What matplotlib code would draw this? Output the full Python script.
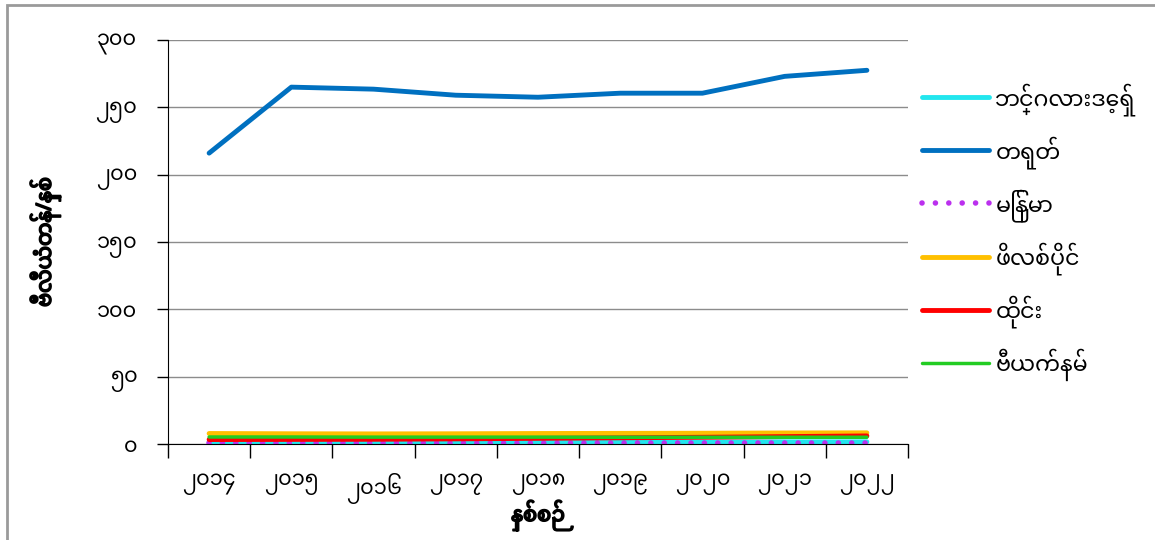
import matplotlib
matplotlib.use("Agg")
import matplotlib.pyplot as plt
from matplotlib.patches import Rectangle
import matplotlib.patheffects as pe

plt.rcParams['font.family'] = ['Noto Sans Myanmar', 'Padauk', 'Myanmar Text', 'DejaVu Sans']

# data
years = ['၂၀၁၄', '၂၀၁၅', '၂၀၁၆', '၂၀၁၇', '၂၀၁၈', '၂၀၁၉', '၂၀၂၀', '၂၀၂၁', '၂၀၂၂']
bangladesh = [1.5, 1.5, 1.5, 1.5, 1.5, 1.5, 1.5, 1.6, 1.6]
china = [216, 265, 263.5, 259, 257.5, 260.5, 260.5, 273, 277.5]
myanmar = [0.7, 0.7, 0.7, 0.7, 0.7, 0.7, 0.7, 0.7, 0.7]
philippines = [7.8, 7.6, 7.5, 7.6, 7.8, 7.9, 8.0, 8.2, 8.3]
thailand = [3.3, 3.4, 3.5, 3.8, 4.2, 4.6, 5.0, 5.5, 6.0]
vietnam = [5.2, 5.2, 5.1, 5.1, 5.1, 5.0, 5.0, 5.0, 5.0]

yticks = [0, 50, 100, 150, 200, 250, 300]
ylabels = ['၀', '၅၀', '၁၀၀', '၁၅၀', '၂၀၀', '၂၅၀', '၃၀၀']

fig = plt.figure(figsize=(11.55, 5.4), dpi=100)
ax = fig.add_axes([168/1155, 1-444/540, 740/1155, 404/540])

x = list(range(len(years)))
l1, = ax.plot(x, bangladesh, color='#22E6EE', lw=3.5, solid_capstyle='round', label='ဘင်္ဂလားဒေ့ရှ်')
l2, = ax.plot(x, china, color='#0070C0', lw=3.5, solid_capstyle='round', label='တရုတ်')
l3, = ax.plot(x, myanmar, color='#BB30EE', lw=4, linestyle=(0, (0.01, 2.4)), dash_capstyle='round', label='မြန်မာ')
l4, = ax.plot(x, philippines, color='#FFC000', lw=3.5, solid_capstyle='round', label='ဖိလစ်ပိုင်')
l5, = ax.plot(x, thailand, color='#FF0000', lw=3.5, solid_capstyle='round', label='ထိုင်း')
l6, = ax.plot(x, vietnam, color='#22CC22', lw=2.5, solid_capstyle='round', label='ဗီယက်နမ်')

ax.set_xlim(-0.5, len(years) - 0.5)
ax.set_ylim(0, 300)
ax.set_yticks(yticks)
ax.set_yticklabels(ylabels, fontsize=15)
ax.set_xticks([i - 0.5 for i in range(len(years) + 1)])
ax.set_xticklabels([])
ax.set_xticks(x, minor=True)
ax.set_xticklabels(years, minor=True, fontsize=15)
ax.tick_params(axis='x', which='major', length=10, direction='out', width=1)
ax.tick_params(axis='x', which='minor', length=0, pad=21)
ax.tick_params(axis='y', length=8, width=1, pad=14)
ax.grid(axis='y', color='#8C8C8C', lw=1)
ax.set_axisbelow(True)
for s in ['top', 'right']:
    ax.spines[s].set_visible(False)
ax.spines['left'].set_color('black')
ax.spines['bottom'].set_color('black')

bold = [pe.withStroke(linewidth=1.2, foreground='black')]
xl = ax.set_xlabel('နှစ်စဉ်', fontsize=15, fontweight='bold', labelpad=-3)
yl = ax.set_ylabel('ဗီလီယံတန်/နှစ်', fontsize=15, fontweight='bold', labelpad=25)
xl.set_path_effects(bold)
yl.set_path_effects(bold)

fig.legend(handles=[l1, l2, l3, l4, l5, l6], loc='upper left',
           bbox_to_anchor=(902/1155, 1-63/540), frameon=False, fontsize=16,
           handlelength=3.0, labelspacing=0.91, handletextpad=0.3)

fig.patches.append(Rectangle((7/1155, -0.1), 1.2, 1.1 - 5/540, transform=fig.transFigure,
                             fill=False, edgecolor='#9A9A9A', lw=2))

fig.savefig('out.png', dpi=100)
